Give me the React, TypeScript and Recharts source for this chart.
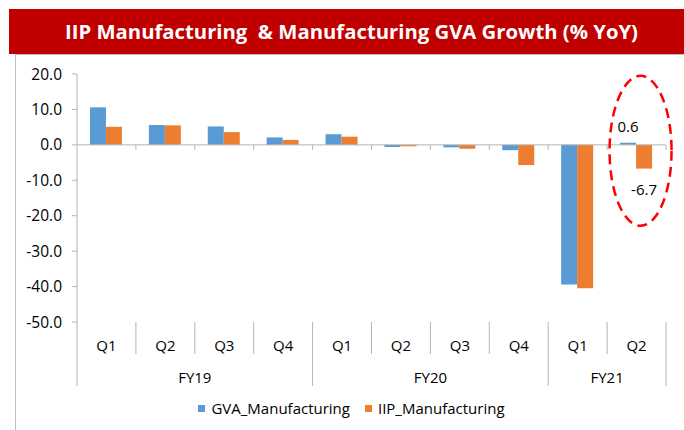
import { BarChart, Bar, XAxis, YAxis, Legend, ReferenceLine, LabelList } from "recharts"

// ── Data ──
const QUARTERS = ["Q1", "Q2", "Q3", "Q4", "Q1", "Q2", "Q3", "Q4", "Q1", "Q2"]
const YEARS = ["FY19", "FY19", "FY19", "FY19", "FY20", "FY20", "FY20", "FY20", "FY21", "FY21"]
const GVA = [10.6, 5.6, 5.2, 2.1, 3.0, -0.6, -0.7, -1.5, -39.4, 0.6]
const IIP = [5.1, 5.5, 3.6, 1.4, 2.3, -0.4, -1.1, -5.7, -40.5, -6.7]
const Y_TICKS = [-50, -40, -30, -20, -10, 0, 10, 20]
const LABELLED = [9] // only the latest quarter carries data labels

const data = QUARTERS.map((q, i) => ({
  key: `${YEARS[i]} ${q}`,
  gva: GVA[i],
  iip: IIP[i],
}))

// ── Look ──
const FONT = "'Open Sans', 'Noto Sans', sans-serif"
const BLUE = "#5B9BD5"
const ORANGE = "#ED7D31"
const AXIS = "#B4B4B4"
const W = 684
const H = 430
const MARGIN = { top: 74, right: 18, left: 17, bottom: 8 }
const Y_AXIS_W = 60
const X_AXIS_H = 100
const PLOT_W = W - MARGIN.left - Y_AXIS_W - MARGIN.right

// ── Multi-level category axis (quarters + fiscal years) ──
function CategoryTick(props: any) {
  const { x, y, payload, index } = props
  const i = typeof index === "number" ? index : payload.index
  const band = payload.offset ? payload.offset * 2 : PLOT_W / QUARTERS.length
  const left = x - band / 2
  const groupStart = i === 0 || YEARS[i] !== YEARS[i - 1]
  const isLast = i === QUARTERS.length - 1
  const groupSize = YEARS.filter((yr) => yr === YEARS[i]).length
  const textStyle = { fontFamily: FONT, fontSize: 15, fill: "#000" }
  return (
    <g>
      <line x1={left} x2={left} y1={y} y2={y + (groupStart ? 64 : 32)} stroke={AXIS} />
      {isLast && <line x1={left + band} x2={left + band} y1={y} y2={y + 64} stroke={AXIS} />}
      <text x={x} y={y + 23} textAnchor="middle" dominantBaseline="central" {...textStyle}>
        {QUARTERS[i]}
      </text>
      {groupStart && (
        <text x={left + (groupSize * band) / 2} y={y + 55} textAnchor="middle" dominantBaseline="central" {...textStyle}>
          {YEARS[i]}
        </text>
      )}
    </g>
  )
}

// ── Zero line with category tick marks ──
function ZeroLine(props: any) {
  const { x1, x2, y1 } = props
  const n = QUARTERS.length
  const step = (x2 - x1) / n
  return (
    <g>
      <line x1={x1} x2={x2} y1={y1} y2={y1} stroke={AXIS} strokeWidth={1} />
      {QUARTERS.map((_, k) => (
        <line key={k} x1={x1 + (k + 1) * step} x2={x1 + (k + 1) * step} y1={y1} y2={y1 + 5} stroke={AXIS} />
      ))}
    </g>
  )
}

// ── Data labels (+ highlight ring on the IIP one) ──
function makeLabel(ring: boolean) {
  return (p: any) => {
    const vb = p.viewBox ?? p
    const x = vb.x ?? p.x
    const y = vb.y ?? p.y
    const width = vb.width ?? p.width
    const height = vb.height ?? p.height
    if (!LABELLED.includes(p.index)) return null
    const v = Number(p.value)
    const top = Math.min(y, y + height)
    const bottom = Math.max(y, y + height)
    const zeroY = v >= 0 ? bottom : top
    const cx = x + width / 2
    const ty = v >= 0 ? top - 17 : bottom + 20
    return (
      <g>
        <text x={cx} y={ty} textAnchor="middle" dominantBaseline="central" fontFamily={FONT} fontSize={15} fill="#000">
          {v.toFixed(1)}
        </text>
        {ring && (
          <ellipse
            cx={x + 4.5}
            cy={zeroY + 6}
            rx={31}
            ry={75}
            fill="none"
            stroke="#FF0000"
            strokeWidth={2.5}
            strokeDasharray="10 6"
          />
        )}
      </g>
    )
  }
}

function LegendContent(props: any) {
  const items = props.payload ?? []
  return (
    <div style={{ display: "flex", justifyContent: "center", alignItems: "center", fontFamily: FONT, fontSize: 15, color: "#000", paddingLeft: 34 }}>
      {items.map((it: any) => (
        <span key={it.value} style={{ display: "flex", alignItems: "center", marginRight: 15 }}>
          <span style={{ width: 7, height: 7, background: it.color, marginRight: 6, display: "inline-block" }} />
          {it.value}
        </span>
      ))}
    </div>
  )
}

export default function App() {
  return (
    <div style={{ position: "absolute", left: 0, top: 0, width: W, height: H, background: "#fff", overflow: "hidden" }}>
      <div
        style={{
          position: "absolute", left: 9, top: 9, width: W - 9, height: 45, background: "#C00000",
          color: "#fff", fontFamily: FONT, fontWeight: 700, fontSize: 20.3, lineHeight: "45px",
          textAlign: "center", paddingLeft: 10, boxSizing: "border-box", whiteSpace: "pre",
        }}
      >
        IIP Manufacturing  &amp; Manufacturing GVA Growth (% YoY)
      </div>
      <div style={{ position: "absolute", left: 15, top: 54, width: W, height: H, border: "1px solid #BFBFBF" }} />
      <div style={{ position: "absolute", left: 0, top: 0 }}>
        <BarChart width={W} height={H} data={data} margin={MARGIN} barCategoryGap="22%" barGap={0}>
          <XAxis
            dataKey="key"
            height={X_AXIS_H}
            interval={0}
            axisLine={false}
            tickLine={false}
            tickSize={0}
            tickMargin={0}
            tick={CategoryTick}
          />
          <YAxis
            domain={[-50, 20]}
            ticks={Y_TICKS}
            interval={0}
            width={Y_AXIS_W}
            tickSize={5}
            tickMargin={10}
            tickFormatter={(v: number) => v.toFixed(1)}
            axisLine={{ stroke: AXIS }}
            tickLine={{ stroke: AXIS }}
            tick={{ fill: "#000", fontSize: 15.5, fontFamily: FONT }}
          />
          <Bar dataKey="gva" name="GVA_Manufacturing" fill={BLUE} isAnimationActive={false}>
            <LabelList dataKey="gva" content={makeLabel(false)} />
          </Bar>
          <Bar dataKey="iip" name="IIP_Manufacturing" fill={ORANGE} isAnimationActive={false}>
            <LabelList dataKey="iip" content={makeLabel(true)} />
          </Bar>
          <ReferenceLine y={0} shape={ZeroLine} />
          <Legend
            layout="horizontal"
            verticalAlign="middle"
            align="center"
            content={LegendContent}
            wrapperStyle={{ top: 398, left: 0, width: W }}
          />
        </BarChart>
      </div>
    </div>
  )
}
